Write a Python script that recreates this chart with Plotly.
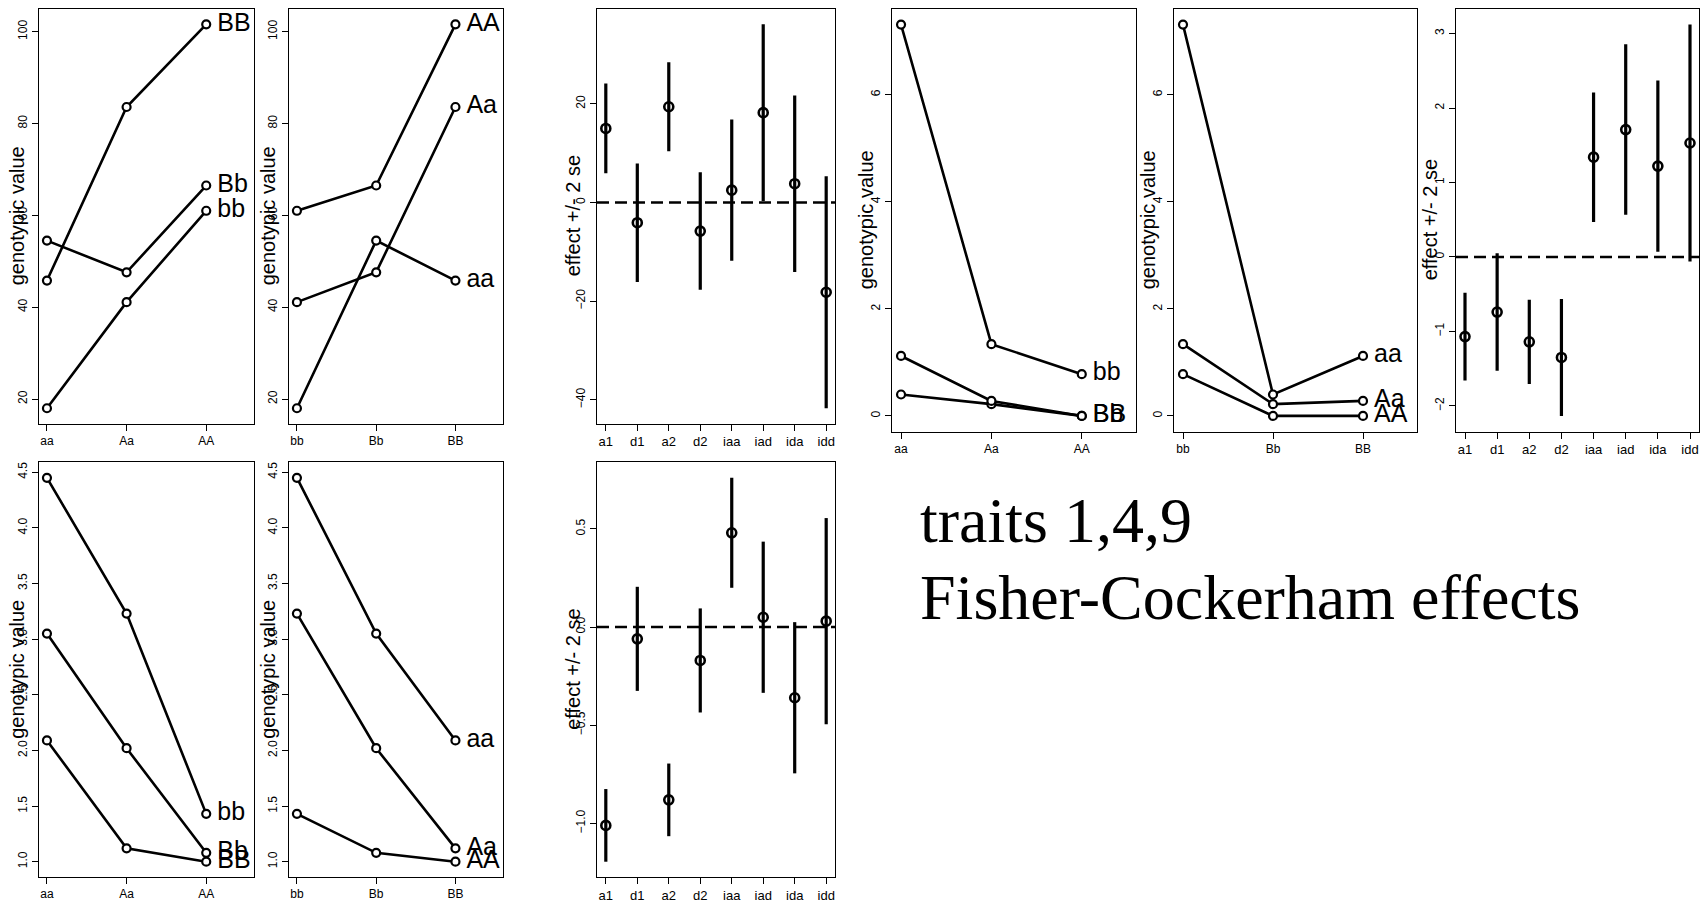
import plotly.graph_objects as go

# ---------------- data ----------------
A_GENO = ["aa", "Aa", "AA"]
B_GENO = ["bb", "Bb", "BB"]
EFFECTS = ["a1", "d1", "a2", "d2", "iaa", "iad", "ida", "idd"]

# genotypic means: rows = A genotype (aa, Aa, AA), columns = B genotype (bb, Bb, BB)
trait1_means = [[18.0, 54.5, 45.8],
                [41.1, 47.6, 83.6],
                [61.0, 66.5, 101.6]]
trait4_means = [[7.31, 0.40, 1.12],
                [1.34, 0.22, 0.28],
                [0.78, 0.00, 0.00]]
trait9_means = [[4.45, 3.05, 2.09],
                [3.23, 2.02, 1.12],
                [1.43, 1.08, 1.00]]

# Fisher-Cockerham effect estimates and 2*se half-widths
trait1_effect = [15.0, -4.1, 19.4, -5.8, 2.5, 18.2, 3.8, -18.2]
trait1_2se = [9.1, 12.0, 9.0, 11.9, 14.3, 17.9, 17.9, 23.5]
trait4_effect = [-1.07, -0.74, -1.14, -1.35, 1.34, 1.71, 1.22, 1.53]
trait4_2se = [0.59, 0.79, 0.565, 0.785, 0.87, 1.145, 1.15, 1.59]
trait9_effect = [-1.01, -0.06, -0.88, -0.17, 0.48, 0.05, -0.36, 0.03]
trait9_2se = [0.185, 0.265, 0.185, 0.265, 0.28, 0.385, 0.385, 0.525]

TITLE_LINE1 = "traits 1,4,9"
TITLE_LINE2 = "Fisher-Cockerham effects"

# ---------------- layout helpers ----------------
W, H = 1703, 903
SANS = "Liberation Sans, Arial, sans-serif"
SERIF = "Liberation Serif, Times New Roman, serif"

# panel boxes in pixels: (left, right, top, bottom)
panels = [
    dict(kind="A", means=trait1_means, box=(39, 254, 8, 424), dtick=20, fmt=None, toff=22),
    dict(kind="B", means=trait1_means, box=(289, 503, 8, 424), dtick=20, fmt=None, toff=21),
    dict(kind="E", eff=trait1_effect, se2=trait1_2se, box=(597, 835, 8, 424), dtick=20, fmt=None, toff=24),
    dict(kind="A", means=trait4_means, box=(892, 1136, 8, 432), dtick=2, fmt=None, toff=26),
    dict(kind="B", means=trait4_means, box=(1174, 1417, 8, 432), dtick=2, fmt=None, toff=26),
    dict(kind="E", eff=trait4_effect, se2=trait4_2se, box=(1456, 1699, 8, 432), dtick=1, fmt=None, toff=26),
    dict(kind="A", means=trait9_means, box=(39, 254, 463, 879), dtick=0.5, fmt=".1f", toff=22),
    dict(kind="B", means=trait9_means, box=(289, 503, 463, 879), dtick=0.5, fmt=".1f", toff=21),
    dict(kind="E", eff=trait9_effect, se2=trait9_2se, box=(597, 835, 463, 879), dtick=0.5, fmt=".1f", toff=24),
]


def r_range(lo, hi):
    pad = 0.04 * (hi - lo)
    return [lo - pad, hi + pad]


fig = go.Figure()
layout = dict(
    width=W, height=H,
    margin=dict(l=0, r=0, t=0, b=0),
    paper_bgcolor="white", plot_bgcolor="white",
    showlegend=False,
    font=dict(family=SANS, color="black"),
)
annotations = []
shapes = []

axis_common = dict(
    showline=True, mirror=True, linecolor="black", linewidth=1,
    ticks="outside", ticklen=6, tickcolor="black", tickwidth=1,
    showgrid=False, zeroline=False,
    tickfont=dict(family=SANS, size=12, color="black"),
)

for k, p in enumerate(panels, start=1):
    l, r, t, b = p["box"]
    xname = "x" if k == 1 else f"x{k}"
    yname = "y" if k == 1 else f"y{k}"
    xdom = [l / W, r / W]
    ydom = [1 - b / H, 1 - t / H]

    if p["kind"] in ("A", "B"):
        M = p["means"]
        flat = [v for row in M for v in row]
        yr = r_range(min(flat), max(flat))
        xr = [0.9, 3.6]
        xticks = A_GENO if p["kind"] == "A" else B_GENO
        if p["kind"] == "A":
            series = [([M[i][j] for i in range(3)], B_GENO[j]) for j in range(3)]
        else:
            series = [(M[i], A_GENO[i]) for i in range(3)]
        for yvals, lab in series:
            fig.add_trace(go.Scatter(
                x=[1, 2, 3], y=yvals, xaxis=xname, yaxis=yname,
                mode="lines+markers+text",
                line=dict(color="black", width=2.6),
                marker=dict(symbol="circle", size=8, color="white",
                            line=dict(color="black", width=2.2)),
                text=["", "", "\u2009" + lab], textposition="middle right",
                textfont=dict(family=SANS, size=25, color="black"),
                cliponaxis=False, hoverinfo="skip",
            ))
        title = "genotypic value"
        xtickvals = [1, 2, 3]
        xfont = 12
    else:
        eff, se2 = p["eff"], p["se2"]
        lows = [e - s for e, s in zip(eff, se2)]
        highs = [e + s for e, s in zip(eff, se2)]
        yr = r_range(min(lows), max(highs))
        xr = [0.72, 8.28]
        xticks = EFFECTS
        xtickvals = list(range(1, len(EFFECTS) + 1))
        fig.add_trace(go.Scatter(
            x=xtickvals, y=eff, xaxis=xname, yaxis=yname,
            mode="markers",
            marker=dict(symbol="circle-open", size=9, color="black",
                        line=dict(color="black", width=2.6)),
            error_y=dict(type="data", symmetric=True, array=se2,
                         thickness=3.2, width=0, color="black"),
            cliponaxis=False, hoverinfo="skip",
        ))
        shapes.append(dict(
            type="line", xref=f"{xname} domain", yref=yname,
            x0=0, x1=1, y0=0, y1=0,
            line=dict(color="black", width=2.6, dash="12px,6px"),
            layer="above",
        ))
        title = "effect +/- 2 se"
        xfont = 13

    xa = dict(axis_common)
    xa.update(domain=xdom, anchor=yname, range=xr,
              tickmode="array", tickvals=xtickvals, ticktext=xticks,
              tickfont=dict(family=SANS, size=xfont, color="black"))
    ya = dict(axis_common)
    ya.update(domain=ydom, anchor=xname, range=yr,
              tick0=0, dtick=p["dtick"], tickangle=-90)
    if p["fmt"]:
        ya["tickformat"] = p["fmt"]
    layout["xaxis" if k == 1 else f"xaxis{k}"] = xa
    layout["yaxis" if k == 1 else f"yaxis{k}"] = ya

    annotations.append(dict(
        text=title, textangle=-90, showarrow=False,
        xref="paper", yref="paper",
        x=(l - p["toff"]) / W, y=1 - ((t + b) / 2) / H,
        xanchor="center", yanchor="middle",
        font=dict(family=SANS, size=20, color="black"),
    ))

# big text block
FS = 64
for txt, base in ((TITLE_LINE1, 543), (TITLE_LINE2, 620)):
    yc = base - 0.3375 * FS
    annotations.append(dict(
        text=txt, showarrow=False, xref="paper", yref="paper",
        x=918 / W, y=1 - yc / H, xanchor="left", yanchor="middle",
        font=dict(family=SERIF, size=FS, color="black"),
    ))

layout["annotations"] = annotations
layout["shapes"] = shapes
fig.update_layout(**layout)

fig.write_html(
    "out.html",
    config={"displayModeBar": False, "staticPlot": True},
    post_script="document.body.style.margin='0';document.body.style.overflow='hidden';",
)
